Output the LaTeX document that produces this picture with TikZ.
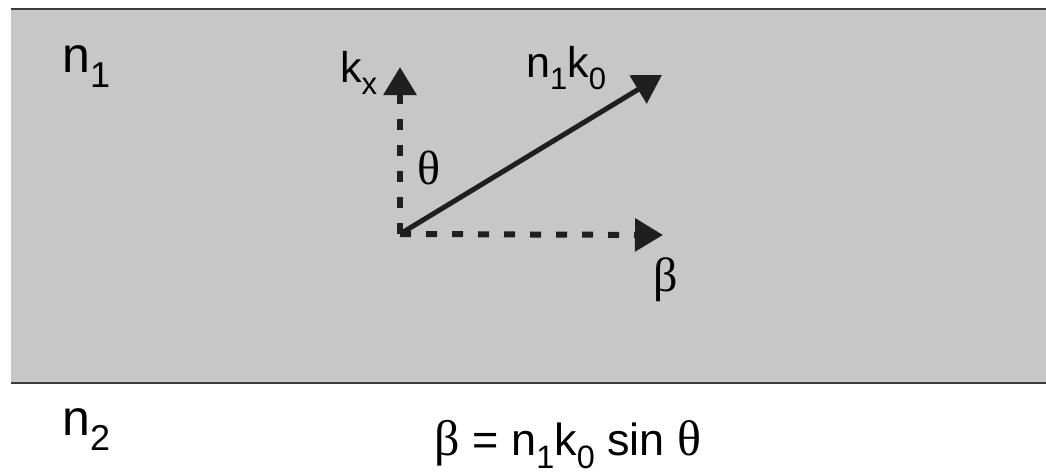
\documentclass[tikz,border=0pt]{standalone}
\usepackage{fontspec}
\usepackage{graphicx}
\setmainfont{Liberation Sans}
\newfontfamily\grk{Liberation Serif}
\usetikzlibrary{arrows.meta}
\newcommand\lsub[1]{\raisebox{-0.3em}{\scalebox{0.72}{#1}}}
\definecolor{bandgray}{RGB}{199,199,199}
\definecolor{edgegray}{RGB}{60,60,60}
\tikzset{
  lbl/.style={inner sep=0pt, font=\fontsize{43}{50}\selectfont},
  eqlbl/.style={inner sep=0pt, font=\fontsize{45}{54}\selectfont},
  biglbl/.style={inner sep=0pt, font=\fontsize{50}{60}\selectfont},
  grklbl/.style={inner sep=0pt, font=\fontsize{48}{56}\selectfont\grk},
  vec/.style={line width=5pt, black!88, -{Triangle[length=28pt,width=32pt]}},
  dashvec/.style={line width=6pt, black!88, dash pattern=on 11pt off 15pt, -{Triangle[length=28pt,width=32pt]}},
}
\begin{document}
\begin{tikzpicture}[x=1pt,y=-1pt]
\useasboundingbox (0,0) rectangle (1046,474);
\fill[white] (0,0) rectangle (1046,474);
\fill[bandgray] (11,9) rectangle (1046,383);
\draw[edgegray, line width=2pt] (11,9) -- (1046,9);
\draw[edgegray, line width=2.5pt] (11,383) -- (1046,383);

\coordinate (O) at (400,234);
\coordinate (kxtip) at (400,67);
\coordinate (btip) at (663,235);
\coordinate (ktip) at (662,75);

\draw[dashvec] (O) -- (kxtip);
\draw[dashvec] (O) -- (btip);
\draw[vec] (O) -- (ktip);

\node[biglbl, anchor=base west] (n1) at (62,72) {n\lsub{1}};
\node[biglbl, anchor=base west] (n2) at (62,435) {n\lsub{2}};
\node[lbl, anchor=base west] (kx) at (340,82) {k\lsub{x}};
\node[lbl, anchor=base west] (nk) at (526,77) {n\lsub{1}k\lsub{0}};
\node[grklbl] (th) at (429,168) {θ};
\node[grklbl] (be) at (666,280) {β};
\node[eqlbl, anchor=base] (eq) at (568,455) {{\grk\fontsize{50}{56}\selectfont β} = n\lsub{1}k\lsub{0} sin {\grk\fontsize{50}{56}\selectfont θ}};
\end{tikzpicture}
\end{document}
